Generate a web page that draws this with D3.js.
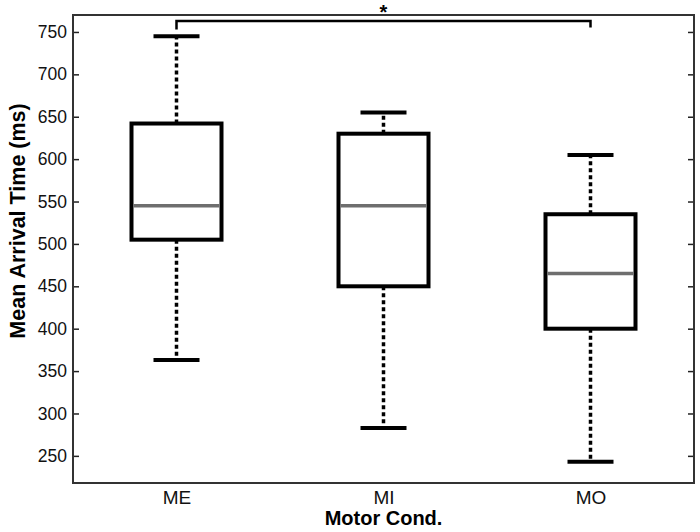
<!DOCTYPE html>
<html>
<head>
<meta charset="utf-8">
<script src="https://cdn.jsdelivr.net/npm/d3@7"></script>
<style>
  body { margin: 0; background: #fff; }
  text { font-family: "Liberation Sans", Arial, sans-serif; }
</style>
</head>
<body>
<div id="chart"></div>
<script>
const categories = ["ME", "MI", "MO"];
const whiskerLow = [363, 283, 243];
const q1 = [505, 450, 400];
const medians = [545, 545, 465];
const q3 = [642, 630, 535];
const whiskerHigh = [745, 655, 605];
const yTicks = [250, 300, 350, 400, 450, 500, 550, 600, 650, 700, 750];

const boxes = categories.map((c, i) => ({
  name: c, lo: whiskerLow[i], q1: q1[i], med: medians[i], q3: q3[i], hi: whiskerHigh[i]
}));

const width = 700, height = 532;
const margin = {top: 15, right: 6, bottom: 49, left: 73};
const w = width - margin.left - margin.right;
const h = height - margin.top - margin.bottom;

const svg = d3.select("#chart")
  .append("svg")
    .attr("width", width)
    .attr("height", height);

const g = svg.append("g")
  .attr("transform", `translate(${margin.left}, ${margin.top})`);

const x = d3.scalePoint()
  .domain(categories)
  .range([0, w])
  .padding(0.5);

const y = d3.scaleLinear()
  .domain([218, 770])
  .range([h, 0]);

// axes with inward ticks
const left = g.append("g")
  .call(d3.axisLeft(y).tickValues(yTicks).tickSizeInner(-6).tickSizeOuter(0).tickPadding(6));
left.selectAll("text").style("font-size", "17.5px").attr("fill", "#111");

const right = g.append("g")
  .attr("transform", `translate(${w},0)`)
  .call(d3.axisRight(y).tickValues(yTicks).tickSizeInner(-6).tickSizeOuter(0));
right.selectAll("text").remove();

const bottom = g.append("g")
  .attr("transform", `translate(0,${h})`)
  .call(d3.axisBottom(x).tickSize(0).tickPadding(8));
bottom.selectAll("text").style("font-size", "19px").attr("fill", "#111");

g.selectAll(".domain").remove();
g.selectAll(".tick line").attr("stroke", "#222").attr("stroke-width", 1.5);

g.append("rect")
  .attr("width", w)
  .attr("height", h)
  .attr("fill", "none")
  .attr("stroke", "#333")
  .attr("stroke-width", 2);

const boxHalf = 45, capHalf = 23;

const bx = g.selectAll("g.box")
  .data(boxes)
  .join("g")
  .attr("class", "box");

// whiskers
bx.append("line")
  .attr("x1", d => x(d.name)).attr("x2", d => x(d.name))
  .attr("y1", d => y(d.q3)).attr("y2", d => y(d.hi))
  .attr("stroke", "#000").attr("stroke-width", 3.5).attr("stroke-dasharray", "4,3");
bx.append("line")
  .attr("x1", d => x(d.name)).attr("x2", d => x(d.name))
  .attr("y1", d => y(d.q1)).attr("y2", d => y(d.lo))
  .attr("stroke", "#000").attr("stroke-width", 3.5).attr("stroke-dasharray", "4,3");

// caps
bx.append("line")
  .attr("x1", d => x(d.name) - capHalf).attr("x2", d => x(d.name) + capHalf)
  .attr("y1", d => y(d.hi)).attr("y2", d => y(d.hi))
  .attr("stroke", "#000").attr("stroke-width", 4);
bx.append("line")
  .attr("x1", d => x(d.name) - capHalf).attr("x2", d => x(d.name) + capHalf)
  .attr("y1", d => y(d.lo)).attr("y2", d => y(d.lo))
  .attr("stroke", "#000").attr("stroke-width", 4);

// box
bx.append("rect")
  .attr("x", d => x(d.name) - boxHalf)
  .attr("y", d => y(d.q3))
  .attr("width", boxHalf * 2)
  .attr("height", d => y(d.q1) - y(d.q3))
  .attr("fill", "#fff")
  .attr("stroke", "#000")
  .attr("stroke-width", 4);

// median
bx.append("line")
  .attr("x1", d => x(d.name) - boxHalf + 2).attr("x2", d => x(d.name) + boxHalf - 2)
  .attr("y1", d => y(d.med)).attr("y2", d => y(d.med))
  .attr("stroke", "#6e6e6e").attr("stroke-width", 3.5);

// significance bracket ME - MO
const bracketY = y(763), dropY = y(754);
g.append("path")
  .attr("d", `M${x("ME")},${dropY + 1}V${bracketY}H${x("MO")}V${dropY - 1}`)
  .attr("fill", "none")
  .attr("stroke", "#000")
  .attr("stroke-width", 2.5);

svg.append("text")
  .attr("x", margin.left + x("MI"))
  .attr("y", 19)
  .attr("text-anchor", "middle")
  .style("font-size", "20px")
  .style("font-weight", "bold")
  .text("*");

svg.append("text")
  .attr("transform", "rotate(-90)")
  .attr("x", -221)
  .attr("y", 25)
  .attr("text-anchor", "middle")
  .style("font-size", "21.5px")
  .style("font-weight", "bold")
  .text("Mean Arrival Time (ms)");

svg.append("text")
  .attr("x", margin.left + w / 2)
  .attr("y", 525)
  .attr("text-anchor", "middle")
  .style("font-size", "20px")
  .style("font-weight", "bold")
  .text("Motor Cond.");
</script>
</body>
</html>
